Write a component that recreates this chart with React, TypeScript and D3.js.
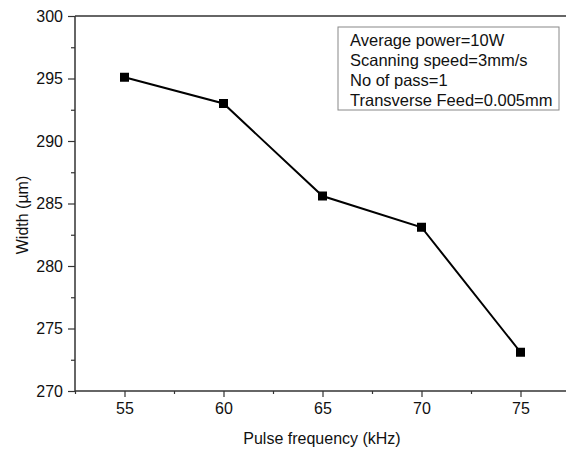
import React, { useEffect, useRef } from 'react';
import * as d3 from 'd3';

const frequencies = [55, 60, 65, 70, 75];
const widths = [295.1, 293.0, 285.6, 283.1, 273.1];
const xTicks = [55, 60, 65, 70, 75];
const yTicks = [270, 275, 280, 285, 290, 295, 300];
const legendLines = [
  'Average power=10W',
  'Scanning speed=3mm/s',
  'No of pass=1',
  'Transverse Feed=0.005mm',
];

const W = 566;
const H = 449;
const FONT = '"Liberation Sans", Arial, Helvetica, sans-serif';

const App = () => {
  const ref = useRef<SVGSVGElement>(null);

  useEffect(() => {
    const svg = d3.select(ref.current);
    svg.selectAll('*').remove();

    const left = 75;
    const top = 16;
    const bottom = 391;

    const x = d3.scaleLinear().domain([52.5, 77.5]).range([left, 570]);
    const y = d3.scaleLinear().domain([270, 300]).range([bottom, top]);

    const axisColor = '#333';

    // frame line at top (runs off the right edge)
    svg.append('line').attr('x1', left).attr('x2', W).attr('y1', top).attr('y2', top)
      .attr('stroke', axisColor).attr('stroke-width', 1.5);

    // X axis
    const gx = svg.append('g').attr('transform', `translate(0,${bottom})`);
    gx.call(
      d3.axisBottom(x).tickValues(xTicks).tickSize(6).tickPadding(6).tickFormat(d3.format('d'))
    );
    gx.append('g').call(
      d3.axisBottom(x).tickValues(d3.range(52.5, 78, 5)).tickSize(3).tickFormat(() => '')
    ).select('.domain').remove();

    // Y axis
    const gy = svg.append('g').attr('transform', `translate(${left},0)`);
    gy.call(
      d3.axisLeft(y).tickValues(yTicks).tickSize(7).tickPadding(5).tickFormat(d3.format('d'))
    );
    gy.append('g').call(
      d3.axisLeft(y).tickValues(d3.range(272.5, 300, 5)).tickSize(4).tickFormat(() => '')
    ).select('.domain').remove();

    svg.selectAll('.domain').attr('stroke', axisColor).attr('stroke-width', 1.5);
    gx.select('.domain').attr('d', `M${left},0H${W}`);
    gy.select('.domain').attr('d', `M0,${bottom}V${top}`);
    svg.selectAll('.tick line').attr('stroke', axisColor).attr('stroke-width', 1.2);
    svg.selectAll('.tick text')
      .attr('fill', '#111')
      .attr('font-family', FONT)
      .attr('font-size', 16);

    // axis titles
    svg.append('text')
      .attr('x', 322).attr('y', 444)
      .attr('text-anchor', 'middle')
      .attr('font-family', FONT).attr('font-size', 16).attr('fill', '#111')
      .text('Pulse frequency (kHz)');

    svg.append('text')
      .attr('transform', `translate(28,215) rotate(-90)`)
      .attr('text-anchor', 'middle')
      .attr('font-family', FONT).attr('font-size', 16).attr('fill', '#111')
      .text('Width (µm)');

    // data line
    const data = frequencies.map((f, i) => ({ f, w: widths[i] }));
    const line = d3.line<{ f: number; w: number }>().x((d) => x(d.f)).y((d) => y(d.w));
    svg.append('path').datum(data)
      .attr('d', line)
      .attr('fill', 'none').attr('stroke', '#000').attr('stroke-width', 2);

    const size = 9;
    svg.selectAll('rect.marker').data(data).enter().append('rect')
      .attr('class', 'marker')
      .attr('x', (d) => x(d.f) - size / 2)
      .attr('y', (d) => y(d.w) - size / 2)
      .attr('width', size).attr('height', size)
      .attr('fill', '#000');

    // legend box
    const lg = svg.append('g').attr('transform', 'translate(338,27)');
    lg.append('rect').attr('width', 221).attr('height', 83)
      .attr('fill', '#fff').attr('stroke', '#888').attr('stroke-width', 1);
    legendLines.forEach((t, i) => {
      lg.append('text')
        .attr('x', 12).attr('y', 19 + i * 20)
        .attr('font-family', FONT).attr('font-size', 16.5).attr('fill', '#111')
        .text(t);
    });
  }, []);

  return (
    <svg
      ref={ref}
      width={W}
      height={H}
      style={{ position: 'absolute', left: 0, top: 0, background: '#fff' }}
    />
  );
};

export default App;
